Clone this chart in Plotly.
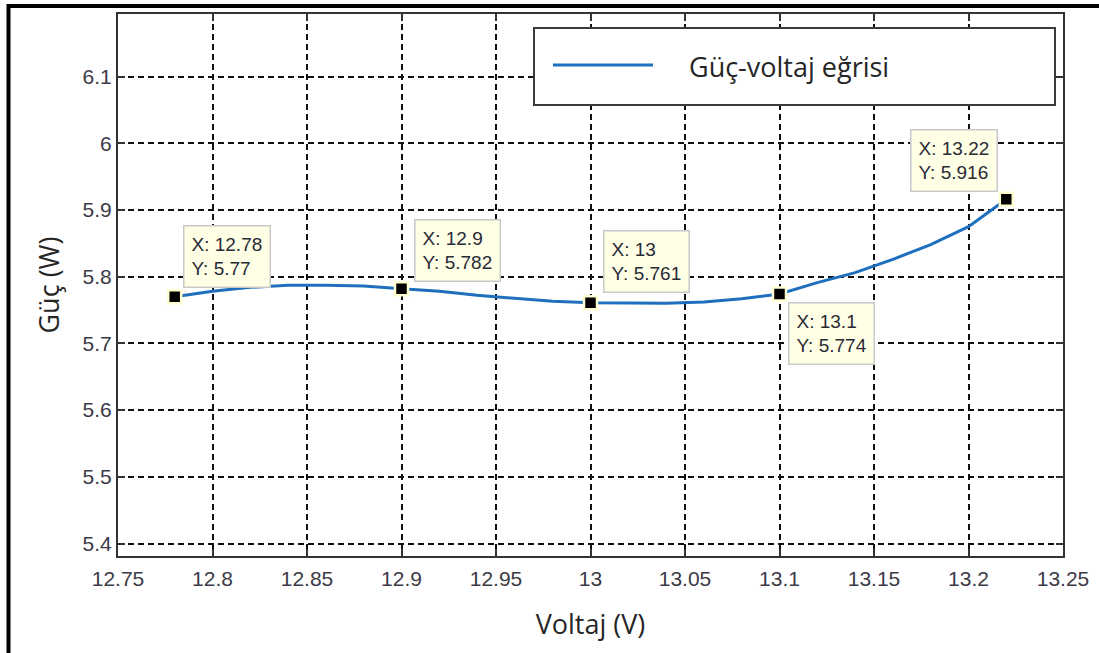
import plotly.graph_objects as go

# ---- data ----
voltage = [12.78, 12.79, 12.80, 12.82, 12.84, 12.86, 12.88, 12.90, 12.92, 12.94,
           12.96, 12.98, 13.00, 13.02, 13.04, 13.06, 13.08, 13.10, 13.12, 13.14,
           13.16, 13.18, 13.20, 13.22]
power = [5.770, 5.774, 5.778, 5.784, 5.787, 5.787, 5.786, 5.782, 5.778, 5.772,
         5.767, 5.763, 5.761, 5.760, 5.760, 5.762, 5.767, 5.774, 5.791, 5.806,
         5.826, 5.848, 5.875, 5.916]

tip_x = [12.78, 12.9, 13.0, 13.1, 13.22]
tip_y = [5.77, 5.782, 5.761, 5.774, 5.916]
tip_xlabel = ["12.78", "12.9", "13", "13.1", "13.22"]
tip_ylabel = ["5.77", "5.782", "5.761", "5.774", "5.916"]

x_ticks = [12.75, 12.8, 12.85, 12.9, 12.95, 13.0, 13.05, 13.1, 13.15, 13.2, 13.25]
x_ticktext = ["12.75", "12.8", "12.85", "12.9", "12.95", "13", "13.05", "13.1", "13.15", "13.2", "13.25"]
y_ticks = [5.4, 5.5, 5.6, 5.7, 5.8, 5.9, 6.0, 6.1]
y_ticktext = ["5.4", "5.5", "5.6", "5.7", "5.8", "5.9", "6", "6.1"]

series_name = "Güç-voltaj eğrisi"
x_title = "Voltaj (V)"
y_title = "Güç (W)"

# ---- styling ----
W, H = 1099, 653
L, R, T, B = 118, 36, 14, 97
BLUE = "#1E70BE"
TICKFONT = dict(family="Liberation Sans, Arial", size=21, color="#3c3a46")
TITLEFONT = dict(family="Open Sans, Lato", size=27, color="#262626")
TIPFONT = dict(family="Liberation Sans, Arial", size=19, color="#2a2a35")

def px_x(p):
    return (p - L) / (W - L - R)

def px_y(p):
    return (H - B - p) / (H - T - B)

fig = go.Figure()
fig.add_trace(go.Scatter(x=voltage, y=power, mode="lines", name=series_name,
                         line=dict(color=BLUE, width=3), showlegend=False,
                         hoverinfo="skip"))
fig.add_trace(go.Scatter(x=tip_x, y=tip_y, mode="markers", showlegend=False,
                         marker=dict(symbol="square", size=13, color="black",
                                     line=dict(color="#FFFFD2", width=2.5)),
                         hoverinfo="skip"))

# data tips (offsets in pixels relative to each point)
tip_offsets = [("left", "bottom", 8, 9), ("left", "bottom", 12, 7),
               ("left", "bottom", 12, 10), ("left", "top", 8, -8),
               ("right", "bottom", -8, 7)]
for xv, yv, xl, yl, (xa, ya, xs, ys) in zip(tip_x, tip_y, tip_xlabel, tip_ylabel, tip_offsets):
    fig.add_annotation(x=xv, y=yv, xref="x", yref="y", showarrow=False,
                       text=f"X: {xl}<br>Y: {yl}", align="left",
                       xanchor=xa, yanchor=ya, xshift=xs, yshift=ys,
                       font=TIPFONT, bgcolor="#FFFFE6", bordercolor="#C8C8C8",
                       borderwidth=1.5, borderpad=7)

# legend box (drawn manually to match the wide sample line)
fig.add_shape(type="rect", xref="paper", yref="paper",
              x0=px_x(534), x1=px_x(1055), y0=px_y(105), y1=px_y(28),
              fillcolor="white", line=dict(color="#3a3a3a", width=2))
fig.add_shape(type="line", xref="paper", yref="paper",
              x0=px_x(553), x1=px_x(653), y0=px_y(65), y1=px_y(65),
              line=dict(color=BLUE, width=3))
fig.add_annotation(xref="paper", yref="paper", x=px_x(687), y=px_y(66),
                   xanchor="left", yanchor="middle", showarrow=False,
                   text=series_name, font=TITLEFONT)

# outer frame (top and left borders)
fig.add_shape(type="line", xref="paper", yref="paper",
              x0=px_x(7), x1=px_x(1105), y0=px_y(6), y1=px_y(6),
              line=dict(color="black", width=4))
fig.add_shape(type="line", xref="paper", yref="paper",
              x0=px_x(8.5), x1=px_x(8.5), y0=px_y(4), y1=px_y(660),
              line=dict(color="black", width=4))

axis_common = dict(showline=True, linecolor="#333333", linewidth=2, mirror="ticks",
                   ticks="inside", ticklen=7, tickwidth=1.5, tickcolor="#333333",
                   showgrid=True, gridcolor="#111111", gridwidth=1.6, griddash="6px,4px",
                   zeroline=False, tickfont=TICKFONT)

fig.update_xaxes(range=[12.75, 13.25], tickvals=x_ticks, ticktext=x_ticktext,
                 ticklabelstandoff=3,
                 title=dict(text=x_title, font=TITLEFONT, standoff=26), **axis_common)
fig.update_yaxes(range=[5.3813, 6.1937], tickvals=y_ticks, ticktext=y_ticktext,
                 ticklabelstandoff=0,
                 title=dict(text=y_title, font=TITLEFONT, standoff=15), **axis_common)

fig.update_layout(width=W, height=H, margin=dict(l=L, r=R, t=T, b=B, autoexpand=False),
                  paper_bgcolor="white", plot_bgcolor="white", showlegend=False)

fig.write_html("out.html", config={"displayModeBar": False},
               post_script="document.body.style.margin='0px';")
